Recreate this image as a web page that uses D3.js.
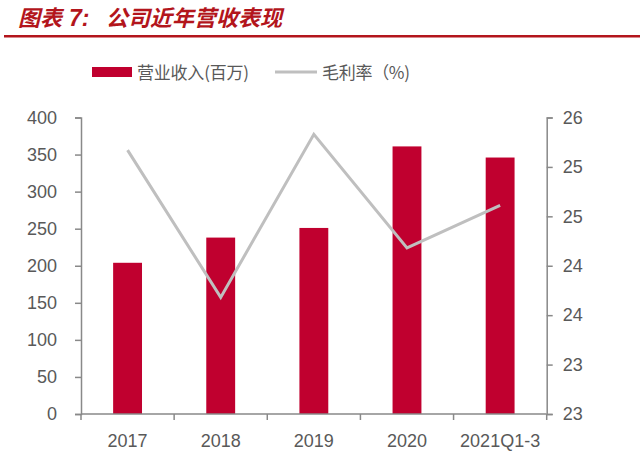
<!DOCTYPE html>
<html><head><meta charset="utf-8">
<script src="https://cdn.jsdelivr.net/npm/d3@7"></script>
<style>body{margin:0;background:#fff}svg{display:block}</style>
</head><body>
<script>
const categories = ["2017","2018","2019","2020","2021Q1-3"];
const revenue = [204, 238, 251, 361, 346];
const grossMargin = [25.67, 24.18, 25.83, 24.68, 25.11];
const leftTicks = [0,50,100,150,200,250,300,350,400];
const rightTicks = [23,23.5,24,24.5,25,25.5,26];
const rightTickLabels = ["23","23","24","24","25","25","26"];

const W=640,H=473;
const svg=d3.select("body").append("svg").attr("width",W).attr("height",H);
const m={l:81,r:546.7,t:117.5,b:414};
const font="'Liberation Sans', Arial, sans-serif";
const axisColor="#898989", textColor="#595959";
const titleColor="#B3151C";

const tAttrs=s=>s.attr("font-family","'Noto Sans CJK SC'").attr("font-weight","bold")
  .attr("font-style","italic").attr("fill",titleColor);
svg.append("text").attr("x",18).attr("y",26).text("图表").attr("font-size",22).call(tAttrs);
svg.append("text").attr("x",69).attr("y",26).text("7:").attr("font-size",23)
  .call(tAttrs).attr("font-family","'Liberation Sans', Arial, sans-serif");
svg.append("text").attr("x",106).attr("y",26).text("公司近年营收表现").attr("font-size",22).call(tAttrs);
svg.append("rect").attr("x",4).attr("y",35).attr("width",636).attr("height",2.5).attr("fill",titleColor);

const x=d3.scaleBand().domain(categories).range([m.l,m.r]).paddingInner(0.69).paddingOuter(0.345);
const xb=d3.scaleBand().domain(categories).range([m.l,m.r]);
const yL=d3.scaleLinear().domain([0,400]).range([m.b,m.t]);
const yR=d3.scaleLinear().domain([23,26]).range([m.b,m.t]);

svg.selectAll("rect.bar").data(revenue).enter().append("rect").attr("class","bar")
  .attr("x",(d,i)=>x(categories[i])).attr("width",x.bandwidth())
  .attr("y",d=>yL(d)).attr("height",d=>m.b-yL(d)).attr("fill","#C0002F");

const line=d3.line().x((d,i)=>xb(categories[i])+xb.bandwidth()/2).y(d=>yR(d));
svg.append("path").datum(grossMargin).attr("d",line).attr("fill","none")
  .attr("stroke","#BFBFBF").attr("stroke-width",3);

const gl=svg.append("g").attr("transform",`translate(${m.l},0)`)
  .call(d3.axisLeft(yL).tickValues(leftTicks).tickSize(6).tickPadding(18));
const gr=svg.append("g").attr("transform",`translate(${m.r},0)`)
  .call(d3.axisRight(yR).tickValues(rightTicks).tickSize(6).tickPadding(10)
  .tickFormat((d,i)=>rightTickLabels[i]));
const gb=svg.append("g").attr("transform",`translate(0,${m.b})`)
  .call(d3.axisBottom(xb).tickSize(0).tickPadding(20));
const bounds=categories.map(c=>xb(c)).concat([m.r]);
svg.selectAll("line.bt").data(bounds).enter().append("line")
  .attr("x1",d=>d).attr("x2",d=>d).attr("y1",m.b).attr("y2",m.b+6)
  .attr("stroke",axisColor).attr("stroke-width",1.5);

[gl,gr,gb].forEach(g=>{
  g.selectAll("path.domain").attr("stroke",axisColor).attr("stroke-width",1.5);
  g.selectAll(".tick line").attr("stroke",axisColor).attr("stroke-width",1.5);
  g.selectAll("text").attr("font-family",font).attr("font-size",18).attr("fill",textColor);
});
gb.select("path.domain").attr("d",`M${m.l},0H${m.r}`);

const lg=svg.append("g");
lg.append("rect").attr("x",92).attr("y",67).attr("width",40).attr("height",10).attr("fill","#C0002F");
lg.append("text").attr("x",137).attr("y",79).text("营业收入(百万)")
  .attr("font-family","'Noto Sans CJK SC'").attr("font-size",17).attr("fill",textColor)
  .attr("textLength",112).attr("lengthAdjust","spacing");
lg.append("line").attr("x1",275).attr("x2",317).attr("y1",72).attr("y2",72)
  .attr("stroke","#BFBFBF").attr("stroke-width",3);
lg.append("text").attr("x",322).attr("y",79).text("毛利率（%)")
  .attr("font-family","'Noto Sans CJK SC'").attr("font-size",17).attr("fill",textColor)
  .attr("textLength",88).attr("lengthAdjust","spacing");
</script>
</body></html>
